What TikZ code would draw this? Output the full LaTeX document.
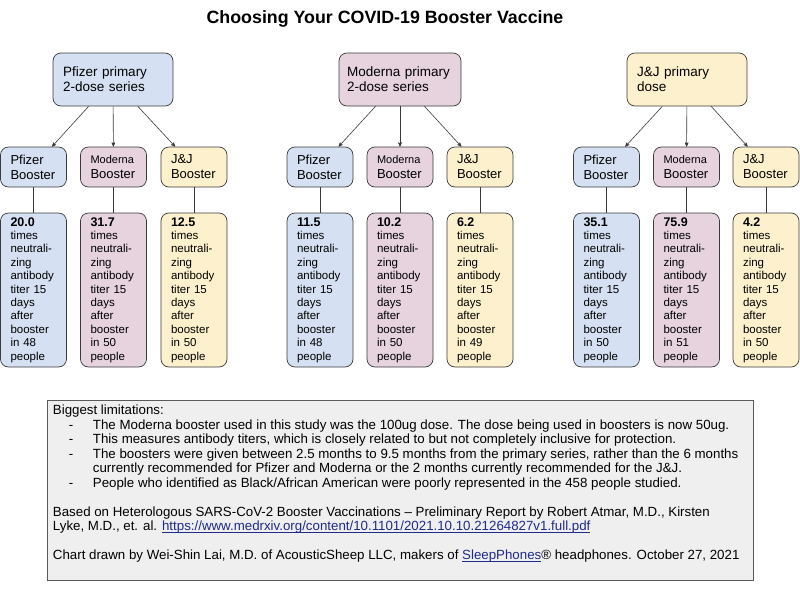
\documentclass[tikz,border=0pt]{standalone}
\usepackage{fontspec}
\setmainfont{Liberation Sans}
\usetikzlibrary{arrows,calc,positioning}

\definecolor{pfizerblue}{HTML}{D5E1F2}
\definecolor{modernapink}{HTML}{E6D3DE}
\definecolor{jjyellow}{HTML}{FDF1CD}
\definecolor{edgegray}{HTML}{3A3A3A}
\definecolor{notefill}{HTML}{EFEFEF}
\definecolor{notedraw}{HTML}{5A5A5A}
\definecolor{linkblue}{HTML}{1F2A8A}

% result text of one booster box
\newcommand{\titerbox}[2]{{\bfseries\fontsize{12.5}{13.4}\selectfont #1}\\times\\neutrali-\\zing\\antibody\\titer 15\\days\\after\\booster\\in #2\\people}
\newcommand{\smallname}[1]{{\fontsize{11}{15}\selectfont #1}}
\newcommand{\weblink}[1]{\textcolor{linkblue}{\setbox0\hbox{#1}\rlap{\rule[-1.6pt]{\wd0}{0.6pt}}\box0}}

\begin{document}
\begin{tikzpicture}
[
                  x =  1pt,
                  y = -1pt,
                 >= stealth',
         line width = 0.7pt,
        box/.style = { draw=edgegray, rounded corners=8pt, align=left, inner xsep=10pt, inner ysep=0pt },
    primary/.style = { box, text width=100pt, minimum height=53pt, font=\fontsize{13.5}{15}\selectfont },
    booster/.style = { box, text width=46pt, minimum height=40pt, font=\fontsize{13}{15}\selectfont },
     result/.style = { box, text width=46pt, minimum height=154pt, font=\fontsize{11.5}{13.4}\selectfont },
       link/.style = { draw=edgegray, line width=0.6pt },
    notebox/.style = { draw=notedraw, fill=notefill, line width=0.8pt, minimum width=706pt, minimum height=180pt, inner sep=0pt },
   notetext/.style = { anchor=north west, align=left, inner sep=0pt, font=\fontsize{13.3}{14.5}\selectfont }
]

    \useasboundingbox (0,0) rectangle (800,600);

    \node (Title) at (385,18.5) [font=\bfseries\fontsize{17.8}{20}\selectfont] {Choosing Your COVID-19 Booster Vaccine};

    % primary series
    \node (PfizerPrimary)  at (113,79.5) [primary, fill=pfizerblue]                                  {Pfizer primary\\2-dose series};
    \node (ModernaPrimary) at (400,79.5) [primary, fill=modernapink, text width=106pt, inner xsep=8pt] {Moderna primary\\2-dose series};
    \node (JJPrimary)      at (687,79.5) [primary, fill=jjyellow]                                    {J\&J primary\\dose};

    % boosters
    \node (PfizerPfizer)   at (33.5,167)  [booster, fill=pfizerblue]  {Pfizer\\Booster};
    \node (PfizerModerna)  at (113.5,167) [booster, fill=modernapink] {\smallname{Moderna}\\Booster};
    \node (PfizerJJ)       at (194,167)   [booster, fill=jjyellow]    {J\&J\\Booster};

    \node (ModernaPfizer)  at (320,167)   [booster, fill=pfizerblue]  {Pfizer\\Booster};
    \node (ModernaModerna) at (400,167)   [booster, fill=modernapink] {\smallname{Moderna}\\Booster};
    \node (ModernaJJ)      at (480,167)   [booster, fill=jjyellow]    {J\&J\\Booster};

    \node (JJPfizer)       at (606.5,167) [booster, fill=pfizerblue]  {Pfizer\\Booster};
    \node (JJModerna)      at (686.5,167) [booster, fill=modernapink] {\smallname{Moderna}\\Booster};
    \node (JJJJ)           at (766,167)   [booster, fill=jjyellow]    {J\&J\\Booster};

    % titers
    \node (PfizerPfizerTiter)   at (33.5,290)  [result, fill=pfizerblue]  {\titerbox{20.0}{48}};
    \node (PfizerModernaTiter)  at (113.5,290) [result, fill=modernapink] {\titerbox{31.7}{50}};
    \node (PfizerJJTiter)       at (194,290)   [result, fill=jjyellow]    {\titerbox{12.5}{50}};

    \node (ModernaPfizerTiter)  at (320,290)   [result, fill=pfizerblue]  {\titerbox{11.5}{48}};
    \node (ModernaModernaTiter) at (400,290)   [result, fill=modernapink] {\titerbox{10.2}{50}};
    \node (ModernaJJTiter)      at (480,290)   [result, fill=jjyellow]    {\titerbox{6.2}{49}};

    \node (JJPfizerTiter)       at (606.5,290) [result, fill=pfizerblue]  {\titerbox{35.1}{50}};
    \node (JJModernaTiter)      at (686.5,290) [result, fill=modernapink] {\titerbox{75.9}{51}};
    \node (JJJJTiter)           at (766,290)   [result, fill=jjyellow]    {\titerbox{4.2}{50}};

    \draw [link, ->] (PfizerPrimary) -- (PfizerPfizer);
    \draw [link, ->] (PfizerPrimary) -- (PfizerModerna);
    \draw [link, ->] (PfizerPrimary) -- (PfizerJJ);
    \draw [link, ->] (ModernaPrimary) -- (ModernaPfizer);
    \draw [link, ->] (ModernaPrimary) -- (ModernaModerna);
    \draw [link, ->] (ModernaPrimary) -- (ModernaJJ);
    \draw [link, ->] (JJPrimary) -- (JJPfizer);
    \draw [link, ->] (JJPrimary) -- (JJModerna);
    \draw [link, ->] (JJPrimary) -- (JJJJ);

    \draw [link] (PfizerPfizer) -- (PfizerPfizerTiter);
    \draw [link] (PfizerModerna) -- (PfizerModernaTiter);
    \draw [link] (PfizerJJ) -- (PfizerJJTiter);
    \draw [link] (ModernaPfizer) -- (ModernaPfizerTiter);
    \draw [link] (ModernaModerna) -- (ModernaModernaTiter);
    \draw [link] (ModernaJJ) -- (ModernaJJTiter);
    \draw [link] (JJPfizer) -- (JJPfizerTiter);
    \draw [link] (JJModerna) -- (JJModernaTiter);
    \draw [link] (JJJJ) -- (JJJJTiter);

    % notes
    \node (Notes) at (400,490) [notebox] {};
    \node (NotesText) at ($(Notes.north west)+(6,5)$) [notetext]
      {Biggest limitations:\\
       \hspace*{16pt}\makebox[24pt][l]{-}The Moderna booster used in this study was the 100ug dose. The dose being used in boosters is now 50ug.\\
       \hspace*{16pt}\makebox[24pt][l]{-}This measures antibody titers, which is closely related to but not completely inclusive for protection.\\
       \hspace*{16pt}\makebox[24pt][l]{-}The boosters were given between 2.5 months to 9.5 months from the primary series, rather than the 6 months\\
       \hspace*{40pt}currently recommended for Pfizer and Moderna or the 2 months currently recommended for the J\&J.\\
       \hspace*{16pt}\makebox[24pt][l]{-}People who identified as Black/African American were poorly represented in the 458 people studied.\\[14.5pt]
       Based on Heterologous SARS-CoV-2 Booster Vaccinations – Preliminary Report by Robert Atmar, M.D., Kirsten\\
       Lyke, M.D., et. al. \weblink{https://www.medrxiv.org/content/10.1101/2021.10.10.21264827v1.full.pdf}\\[14.5pt]
       Chart drawn by Wei-Shin Lai, M.D. of AcousticSheep LLC, makers of \weblink{SleepPhones}® headphones. October 27, 2021};

\end{tikzpicture}
\end{document}
